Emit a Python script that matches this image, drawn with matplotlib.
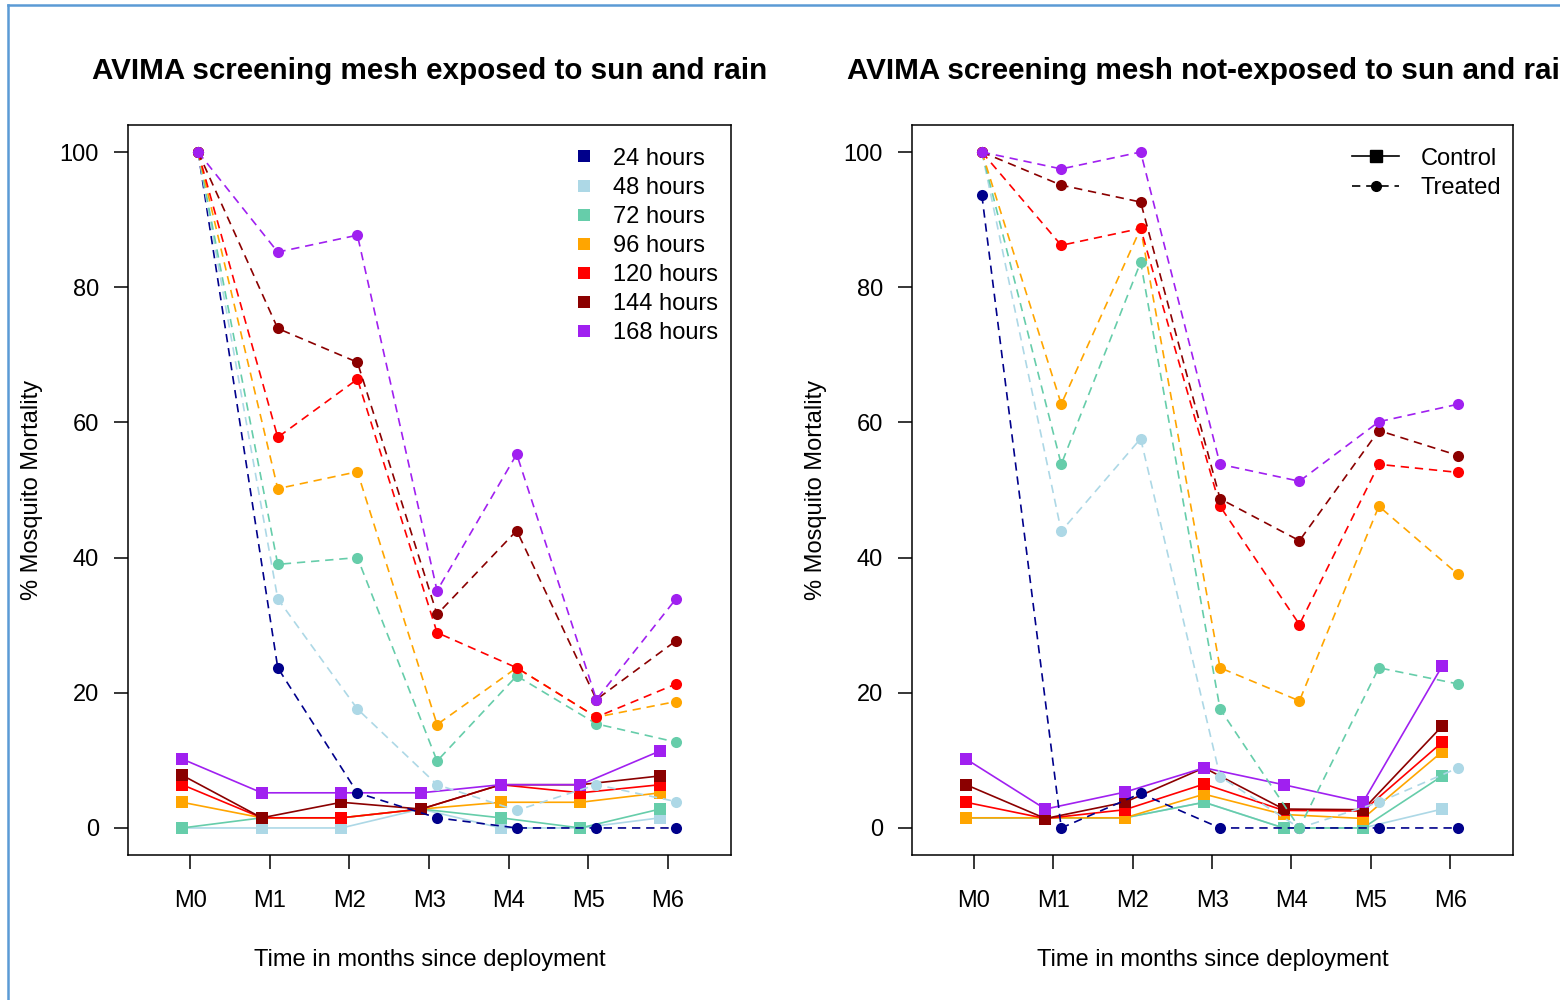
import numpy as np
import matplotlib
matplotlib.use("Agg")
import matplotlib.pyplot as plt
from matplotlib.lines import Line2D

plt.rcParams['font.family'] = ['Liberation Sans', 'DejaVu Sans']

# months since deployment
months = ['M0', 'M1', 'M2', 'M3', 'M4', 'M5', 'M6']
hours = ['24 hours', '48 hours', '72 hours', '96 hours', '120 hours', '144 hours', '168 hours']
colors = ['#00008B', '#ADD8E6', '#66CDAA', '#FFA500', '#FF0000', '#8B0000', '#A020F0']

# exposed mesh - treated (% mortality)
exp_treated = {
    '24 hours':  [100, 23.7, 5.2, 1.5, 0, 0, 0],
    '48 hours':  [100, 33.9, 17.6, 6.4, 2.6, 6.4, 3.9],
    '72 hours':  [100, 39.0, 40.0, 9.9, 22.5, 15.4, 12.7],
    '96 hours':  [100, 50.2, 52.7, 15.3, 23.7, 16.4, 18.7],
    '120 hours': [100, 57.8, 66.4, 28.9, 23.7, 16.4, 21.3],
    '144 hours': [100, 73.9, 68.9, 31.6, 44.0, 19.0, 27.7],
    '168 hours': [100, 85.2, 87.7, 35.1, 55.3, 19.0, 33.9],
}
# exposed mesh - control
exp_control = {
    '48 hours':  [0, 0, 0, 2.8, 0, 0, 1.5],
    '72 hours':  [0, 1.5, 1.5, 2.8, 1.5, 0, 2.8],
    '96 hours':  [3.8, 1.5, 1.5, 2.8, 3.8, 3.8, 5.2],
    '120 hours': [6.4, 1.5, 1.5, 2.8, 6.4, 5.2, 6.4],
    '144 hours': [7.8, 1.5, 3.8, 2.8, 6.4, 6.4, 7.7],
    '168 hours': [10.2, 5.2, 5.2, 5.2, 6.4, 6.4, 11.4],
}
# not-exposed mesh - treated
nexp_treated = {
    '24 hours':  [93.6, 0, 5.1, 0, 0, 0, 0],
    '48 hours':  [100, 43.9, 57.6, 7.6, 0, 3.8, 8.9],
    '72 hours':  [100, 53.8, 83.7, 17.6, 0, 23.7, 21.3],
    '96 hours':  [100, 62.7, 88.7, 23.7, 18.8, 47.6, 37.5],
    '120 hours': [100, 86.2, 88.7, 47.6, 30.1, 53.8, 52.6],
    '144 hours': [100, 95.1, 92.6, 48.7, 42.5, 58.8, 55.1],
    '168 hours': [100, 97.5, 100, 53.8, 51.3, 60.1, 62.7],
}
# not-exposed mesh - control
nexp_control = {
    '48 hours':  [1.5, 1.5, 1.5, 3.8, 0, 0, 2.8],
    '72 hours':  [1.5, 1.5, 1.5, 3.8, 0, 0, 7.7],
    '96 hours':  [1.5, 1.5, 1.5, 5.0, 2.0, 1.4, 11.3],
    '120 hours': [3.8, 1.4, 2.7, 6.5, 2.6, 2.5, 12.7],
    '144 hours': [6.4, 1.4, 3.8, 8.9, 2.8, 2.7, 15.1],
    '168 hours': [10.2, 2.8, 5.3, 8.9, 6.4, 3.8, 24.0],
}

x = np.arange(len(months))

fig = plt.figure(figsize=(15.6, 10), dpi=100)
ax1 = fig.add_axes([128/1560, 0.145, 603/1560, 0.73])
ax2 = fig.add_axes([912/1560, 0.145, 601/1560, 0.73])


def draw_panel(ax, control, treated, title):
    for h, c in zip(hours, colors):
        if h in control:
            ax.plot(x - 0.1, control[h], color=c, lw=1.2, marker='s', ms=9,
                    markeredgewidth=0)
    for h, c in zip(hours, colors):
        ax.plot(x + 0.1, treated[h], color=c, lw=1.2, ls=(0, (5, 3.5)),
                marker='o', ms=8, markeredgewidth=0)
    ax.set_xlim(-0.78, 6.79)
    ax.set_ylim(-4, 104)
    ax.set_xticks(x)
    ax.set_xticklabels(months)
    ax.set_yticks([0, 20, 40, 60, 80, 100])
    ax.tick_params(axis='both', labelsize=17, length=10, width=1.1, direction='out')
    ax.tick_params(axis='x', pad=15.5)
    ax.tick_params(axis='y', pad=11)
    for s in ax.spines.values():
        s.set_linewidth(1.1)
    ax.set_xlabel('Time in months since deployment', fontsize=17, labelpad=26)
    ax.set_ylabel('% Mosquito Mortality', fontsize=17, labelpad=12)
    ax.set_title(title, fontsize=21.3, fontweight='bold', pad=33)


draw_panel(ax1, exp_control, exp_treated, 'AVIMA screening mesh exposed to sun and rain')
draw_panel(ax2, nexp_control, nexp_treated, 'AVIMA screening mesh not-exposed to sun and rain')

handles = [Line2D([], [], color=c, marker='s', ls='None', ms=8.5, markeredgewidth=0)
           for c in colors]
ax1.legend(handles, hours, loc='upper right', frameon=False, fontsize=17,
           labelspacing=0.3, handletextpad=0.25, borderaxespad=0.1,
           bbox_to_anchor=(0.999, 0.985))

lh = [Line2D([], [], color='black', lw=1.2, marker='s', ms=8),
      Line2D([], [], color='black', lw=1.2, ls=(0, (5, 3.5)), marker='o', ms=7)]
ax2.legend(lh, ['Control', 'Treated'], loc='upper right', frameon=False, fontsize=17,
           labelspacing=0.3, handlelength=2.0, handletextpad=0.9, borderaxespad=0.1,
           bbox_to_anchor=(1.0, 0.985))

# blue frame of the screenshot
fig.add_artist(Line2D([8/1560, 1], [1 - 5/1000, 1 - 5/1000], transform=fig.transFigure,
                      color='#5B9BD5', lw=1.8))
fig.add_artist(Line2D([8/1560, 8/1560], [0, 1 - 5/1000], transform=fig.transFigure,
                      color='#5B9BD5', lw=1.8))

fig.savefig('out.png', dpi=100)
